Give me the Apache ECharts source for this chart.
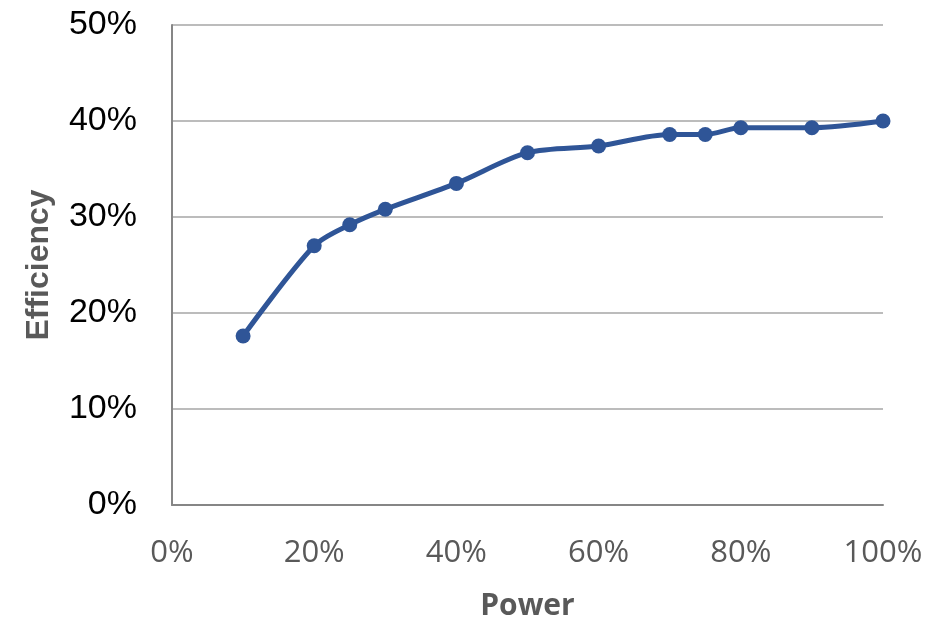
<!DOCTYPE html>
<html>
<head>
<meta charset="utf-8">
<script src="https://cdn.jsdelivr.net/npm/echarts@6/dist/echarts.min.js"></script>
<style>
  html, body { margin: 0; padding: 0; background: #ffffff; }
  #chart { width: 946px; height: 626px; }
</style>
</head>
<body>
<div id="chart"></div>
<script>
// Load share (% of rated power) and measured efficiency (%)
const powerPct = [10, 20, 25, 30, 40, 50, 60, 70, 75, 80, 90, 100];
const efficiencyPct = [17.6, 27.0, 29.2, 30.8, 33.5, 36.7, 37.4, 38.6, 38.6, 39.3, 39.3, 40.0];

const points = powerPct.map((p, i) => [p, efficiencyPct[i]]);

const chart = echarts.init(document.getElementById('chart'), null, { renderer: 'canvas' });

chart.setOption({
  animation: false,
  backgroundColor: '#ffffff',
  grid: { left: 172, right: 63, top: 25, bottom: 116 },
  xAxis: {
    type: 'value',
    min: 0,
    max: 100,
    interval: 20,
    name: 'Power',
    nameLocation: 'middle',
    nameGap: 86,
    nameTextStyle: {
      fontFamily: 'Open Sans',
      fontWeight: 'bold',
      fontSize: 30,
      color: '#595959'
    },
    axisLine: { show: true, lineStyle: { color: '#868686', width: 2 } },
    axisTick: { show: false },
    splitLine: { show: false },
    axisLabel: {
      formatter: '{value}%',
      margin: 33,
      fontFamily: 'Open Sans',
      fontSize: 31,
      color: '#595959'
    }
  },
  yAxis: {
    type: 'value',
    min: 0,
    max: 50,
    interval: 10,
    name: 'Efficiency',
    nameLocation: 'middle',
    nameRotate: 90,
    nameGap: 117,
    nameTextStyle: {
      fontFamily: 'Liberation Sans',
      fontWeight: 'bold',
      fontSize: 32,
      color: '#595959'
    },
    axisLine: { show: true, lineStyle: { color: '#868686', width: 2 } },
    axisTick: { show: false },
    splitLine: { show: true, lineStyle: { color: '#a6a6a6', width: 1.5 } },
    axisLabel: {
      formatter: '{value}%',
      margin: 35,
      fontFamily: 'Liberation Sans',
      fontSize: 34,
      color: '#000000'
    }
  },
  series: [{
    type: 'line',
    data: points,
    smooth: 0.3,
    symbol: 'circle',
    symbolSize: 15,
    lineStyle: { color: '#2f5597', width: 5 },
    itemStyle: { color: '#2f5597' }
  }]
});
</script>
</body>
</html>
